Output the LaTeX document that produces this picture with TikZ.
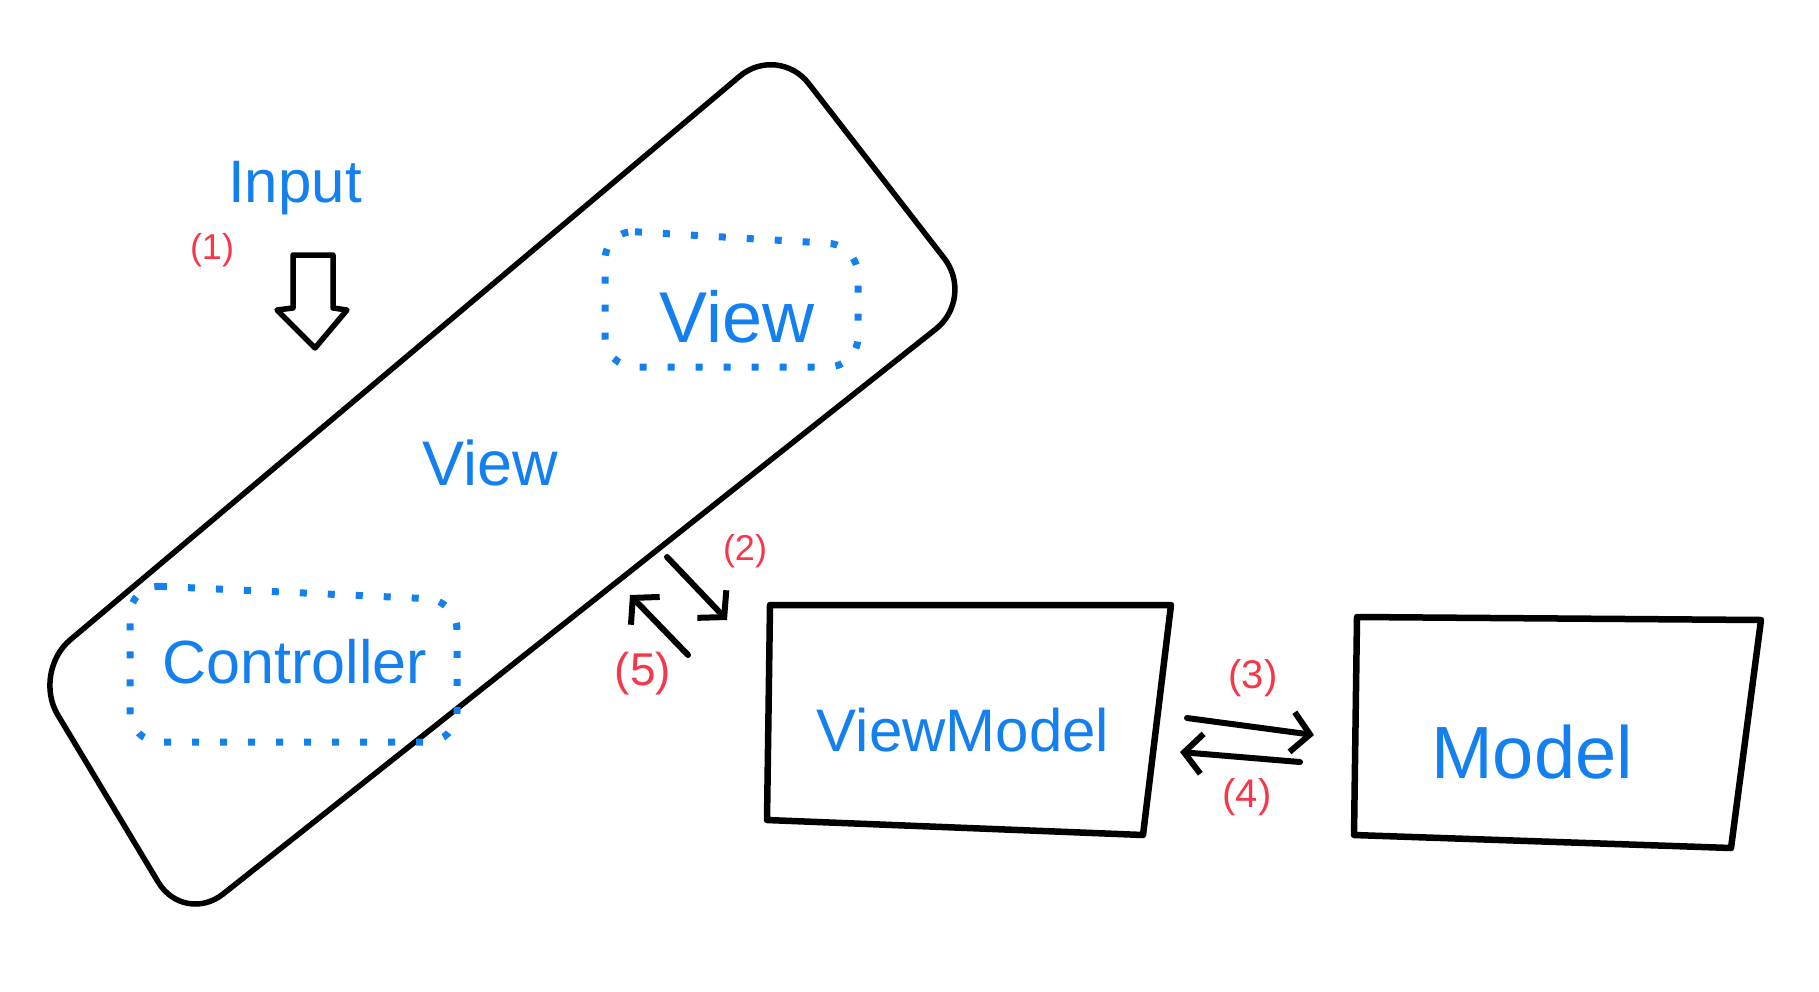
\documentclass[tikz,border=0pt]{standalone}
\usepackage{fontspec}
\setmainfont{Liberation Sans}
\usetikzlibrary{arrows.meta}
\definecolor{penblue}{RGB}{20,128,240}
\definecolor{penred}{RGB}{245,55,75}
\begin{document}
\begin{tikzpicture}[x=1pt,y=-1pt,
  ink/.style={draw=black,line width=5.5pt,line join=round,line cap=round},
  boxink/.style={ink,line width=6.5pt},
  dotbox/.style={draw=penblue,line width=7pt,dash pattern=on 7pt off 21pt,rounded corners=30pt},
  bluetxt/.style={text=penblue,font=\fontsize{#1pt}{#1pt}\selectfont,inner sep=0pt},
  redtxt/.style={text=penred,font=\fontsize{#1pt}{#1pt}\selectfont,inner sep=0pt},
  barb/.style={ink,line width=6pt,-{Straight Barb[length=18pt,width=40pt,line width=6pt]}}]
\useasboundingbox[fill=white] (0,0) rectangle (1819,991);

% big rotated View shape
\coordinate (vA) at (778,44);
\coordinate (vB) at (975,298);
\coordinate (vC) at (184,925);
\coordinate (vD) at (32,672);
\draw[ink,rounded corners=50pt] (vD) -- (vA) -- (vB) -- (vC) -- cycle;

% dotted inner boxes
\draw[dotbox] (605,230) -- (858,245) -- (858,367) -- (605,367) -- cycle;
\draw[dotbox] (130,585) -- (457,600) -- (457,742) -- (130,742) -- cycle;

% texts
\node[bluetxt=60] (input) at (295,188) {Input};
\node[redtxt=36] (l1) at (212,250) {(1)};
\node[bluetxt=72] (innerview) at (737,317) {View};
\node[bluetxt=63] (view) at (490,463) {View};
\node[bluetxt=61] (ctrl) at (295,662) {Controller};

% hollow input arrow
\draw[ink] (293,255) -- (333,255) -- (333,308) -- (347,310) -- (315,348) -- (277,310) -- (293,308) -- cycle;

% ViewModel box
\coordinate (m1) at (770,605);
\coordinate (m2) at (1171,605);
\coordinate (m3) at (1143,835);
\coordinate (m4) at (767,820);
\draw[boxink] (m1) -- (m2) -- (m3) -- (m4) -- cycle;
\node[bluetxt=60] (vm) at (963,730) {ViewModel};

% Model box
\coordinate (n1) at (1357,617);
\coordinate (n2) at (1761,620);
\coordinate (n3) at (1731,848);
\coordinate (n4) at (1354,835);
\draw[boxink] (n1) -- (n2) -- (n3) -- (n4) -- cycle;
\node[bluetxt=74] (model) at (1532,752) {Model};

% arrows view <-> viewmodel
\coordinate (a2s) at (667,557);
\coordinate (a2e) at (727,620);
\draw[barb] (a2s) -- (a2e);
\coordinate (a5s) at (688,655);
\coordinate (a5e) at (630,595);
\draw[barb] (a5s) -- (a5e);
\node[redtxt=36] (l2) at (745,551) {(2)};
\node[redtxt=46] (l5) at (643,674) {(5)};

% arrows viewmodel <-> model
\coordinate (a3s) at (1187,718);
\coordinate (a3e) at (1314,735);
\draw[barb] (a3s) -- (a3e);
\coordinate (a4s) at (1300,762);
\coordinate (a4e) at (1180,752);
\draw[barb] (a4s) -- (a4e);
\node[redtxt=40] (l3) at (1253,678) {(3)};
\node[redtxt=40] (l4) at (1247,797) {(4)};
\end{tikzpicture}
\end{document}
